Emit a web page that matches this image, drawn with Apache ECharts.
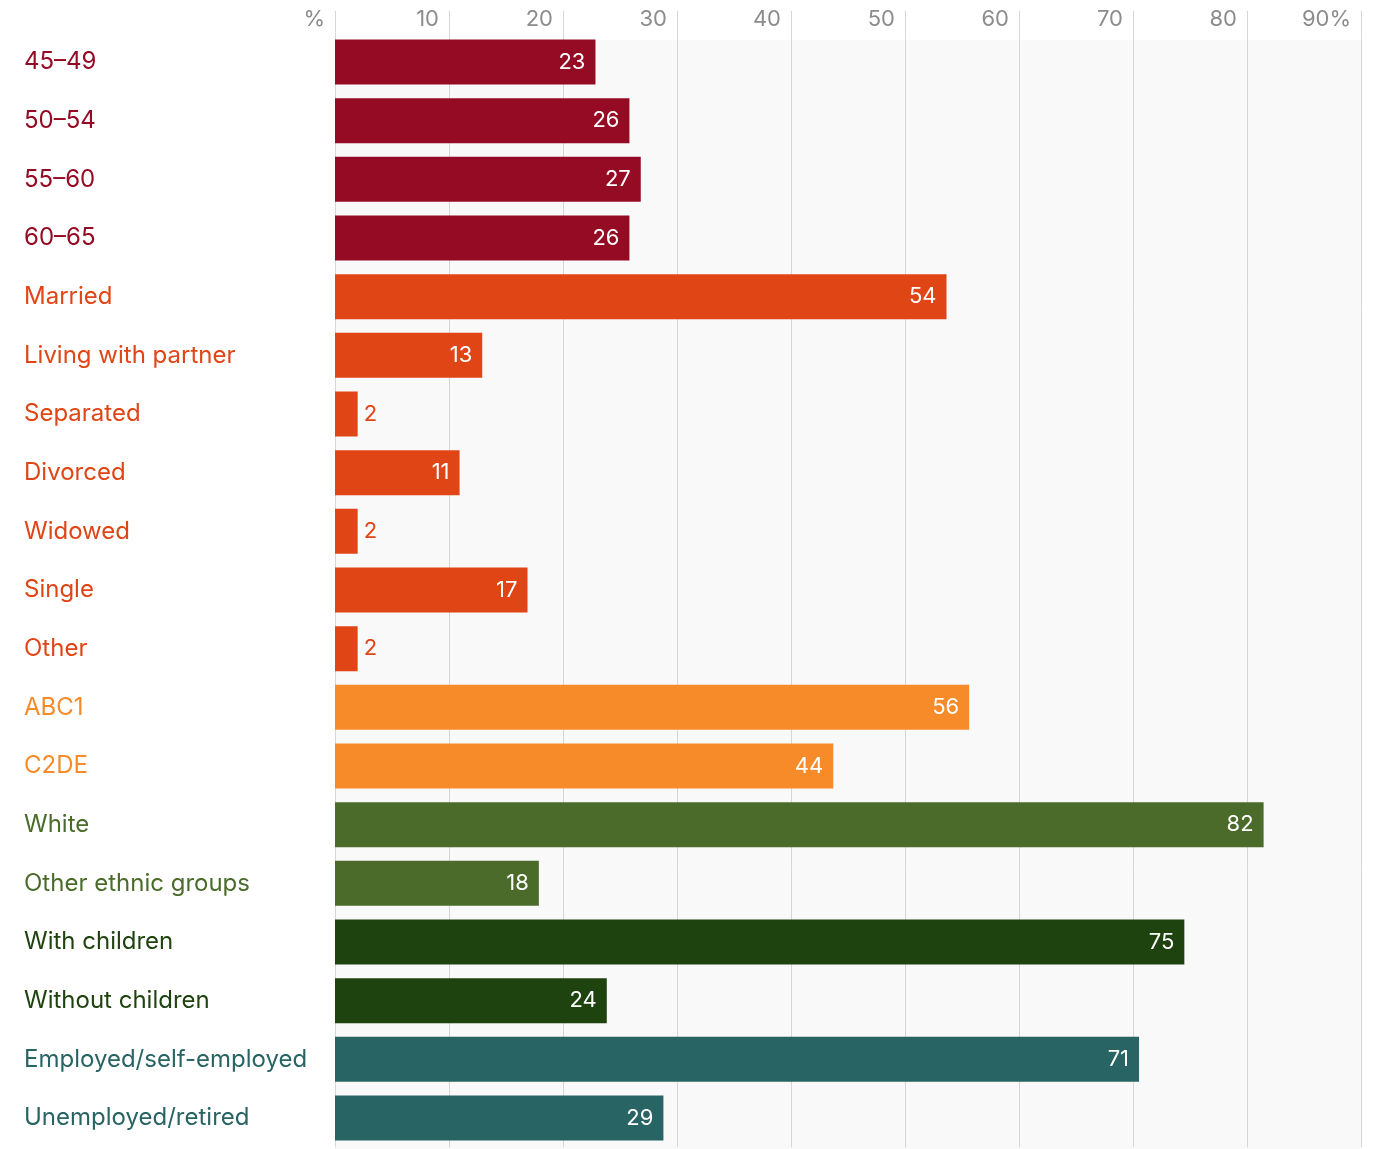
<!DOCTYPE html>
<html>
<head>
<meta charset="utf-8">
<script src="https://cdn.jsdelivr.net/npm/echarts@6/dist/echarts.min.js"></script>
<style>
html,body{margin:0;padding:0;background:#fff;}
#chart{width:1373px;height:1149px;}
</style>
</head>
<body>
<div id="chart"></div>
<script>
const categories = ["45–49","50–54","55–60","60–65","Married","Living with partner","Separated","Divorced","Widowed","Single","Other","ABC1","C2DE","White","Other ethnic groups","With children","Without children","Employed/self-employed","Unemployed/retired"];
const values = [23,26,27,26,54,13,2,11,2,17,2,56,44,82,18,75,24,71,29];
const groupOf = [0,0,0,0,1,1,1,1,1,1,1,2,2,3,3,4,4,5,5];
const groupColors = ["#960b24","#e04515","#f78b2a","#4a6b29","#1f430e","#286463"];
const tickValues = [0,10,20,30,40,50,60,70,80,90];

const FONT = "Inter, 'Noto Sans', sans-serif";
const chart = echarts.init(document.getElementById('chart'));

const rich = {};
groupColors.forEach((c,g)=>{
  rich['g'+g] = {color:c, width:290, align:'left', fontSize:24, fontFamily:FONT};
});

const barData = values.map((v,i)=>{
  const col = groupColors[groupOf[i]];
  const small = v < 5;
  return {
    value: v,
    itemStyle:{color:col},
    label:{
      show:true,
      position: small ? 'right' : 'insideRight',
      color: small ? col : '#ffffff',
      distance: small ? 6 : 10
    }
  };
});

chart.setOption({
  animation:false,
  graphic:[{
    type:'rect', z:-10, silent:true,
    shape:{x:335, y:40, width:1026, height:1109},
    style:{fill:'#f9f9f9'}
  }],
  grid:{left:335, right:12, top:32.7, bottom:1.7, containLabel:false, outerBoundsMode:'none'},
  xAxis:[{
    type:'value', position:'top', min:0, max:90, interval:10,
    axisLine:{show:false},
    axisTick:{show:true, length:22, lineStyle:{color:'#d6d6d6', width:1}},
    splitLine:{show:true, lineStyle:{color:'#d6d6d6', width:1}},
    axisLabel:{
      color:'#8c8c8c', fontSize:22, fontFamily:FONT,
      align:'right', verticalAlign:'middle', margin:13,
      padding:[0,10,0,0],
      formatter:(v)=> v===0 ? '%' : (v===90 ? '90%' : String(v))
    }
  },{
    type:'value', position:'top', min:0, max:90.6, show:false
  }],
  yAxis:{
    type:'category', inverse:true, data:categories,
    axisLine:{show:false}, axisTick:{show:false},
    axisLabel:{
      align:'right', margin:21, fontSize:24, fontFamily:FONT,
      formatter:(v,i)=> '{g'+groupOf[i]+'|'+v+'}',
      rich:rich
    }
  },
  series:[{
    type:'bar', data:barData, barWidth:45, xAxisIndex:1,
    label:{fontSize:22, fontFamily:FONT}
  }]
});
</script>
</body>
</html>
